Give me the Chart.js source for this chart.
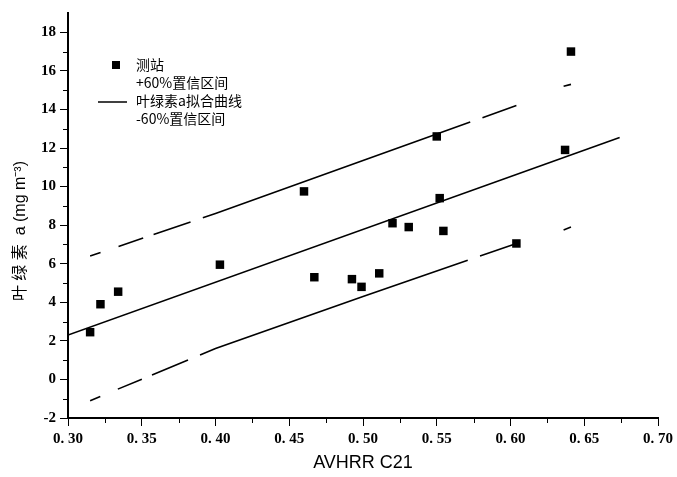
<!DOCTYPE html>
<html>
<head>
<meta charset="utf-8">
<script src="https://cdn.jsdelivr.net/npm/chart.js@4.4.1/dist/chart.umd.min.js"></script>
<style>
  html, body { margin: 0; padding: 0; background: #fff; }
  #wrap { width: 677px; height: 477px; }
</style>
</head>
<body>
<div id="wrap"><canvas id="c"></canvas></div>
<script>
// --- data ---
const stationX = [0.315, 0.322, 0.334, 0.403, 0.460, 0.467, 0.4925, 0.499, 0.511, 0.520, 0.531, 0.550, 0.552, 0.5545, 0.604, 0.637, 0.641];
const stationY = [2.45, 3.9, 4.55, 5.95, 9.75, 5.3, 5.2, 4.8, 5.5, 8.1, 7.9, 12.6, 9.4, 7.7, 7.05, 11.9, 17.0];

const fitX = [0.30, 0.674];
const fitY = [2.3, 12.55];

// null = break in the dashed band
const bandX = [0.315, 0.40, 0.50, 0.604, null, 0.636, 0.641];
const upperY = [6.4, 8.6, 11.35, 14.2, null, 15.2, 15.3];
const lowerY = [-1.1, 1.6, 4.3, 7.05, null, 7.75, 7.9];

const xTicks = [0.30, 0.35, 0.40, 0.45, 0.50, 0.55, 0.60, 0.65, 0.70];
const yTicks = [-2, 0, 2, 4, 6, 8, 10, 12, 14, 16, 18];
const xMinor = [0.325, 0.375, 0.425, 0.475, 0.525, 0.575, 0.625, 0.675];
const yMinor = [-1, 1, 3, 5, 7, 9, 11, 13, 15, 17];

const legendTexts = ['测站', '+60%置信区间', '叶绿素a拟合曲线', '-60%置信区间'];

function pts(xs, ys) {
    return xs.map((x, i) => (x === null ? { x: NaN, y: null } : { x: x, y: ys[i] }));
}

const tickFont = { family: '"Liberation Serif", serif', size: 15, weight: 'bold' };
const bandDash = [11, 19, 26, 11, 39, 13, 284, 13, 37, 0];

// minor ticks on both axes
const minorTicks = {
    id: 'minorTicks',
    afterDraw(chart) {
        const ctx = chart.ctx;
        const xs = chart.scales.x, ys = chart.scales.y;
        ctx.save();
        ctx.strokeStyle = '#000';
        ctx.lineWidth = 1;
        ctx.beginPath();
        xMinor.forEach(v => {
            const px = Math.round(xs.getPixelForValue(v)) + 0.5;
            ctx.moveTo(px, xs.top);
            ctx.lineTo(px, xs.top + 5);
        });
        yMinor.forEach(v => {
            const py = Math.round(ys.getPixelForValue(v)) + 0.5;
            ctx.moveTo(ys.right, py);
            ctx.lineTo(ys.right - 5, py);
        });
        ctx.stroke();
        ctx.restore();
    }
};

// legend inside the plot (only marker + fit line have symbols)
const innerLegend = {
    id: 'innerLegend',
    afterDraw(chart) {
        const ctx = chart.ctx;
        const x0 = 136, y0 = 65, step = 18;
        ctx.save();
        ctx.fillStyle = '#000';
        ctx.fillRect(112, y0 - 4, 8, 8);
        ctx.strokeStyle = '#000';
        ctx.lineWidth = 1.5;
        ctx.beginPath();
        ctx.moveTo(98, y0 + 2 * step + 1);
        ctx.lineTo(127, y0 + 2 * step + 1);
        ctx.stroke();
        ctx.font = '14px "Noto Sans CJK SC", "Liberation Serif", serif';
        ctx.textBaseline = 'middle';
        ctx.textAlign = 'left';
        legendTexts.forEach((t, i) => ctx.fillText(t, x0, y0 + i * step));
        ctx.restore();
    }
};

new Chart(document.getElementById('c'), {
    type: 'scatter',
    data: {
        datasets: [
            {
                label: legendTexts[0],
                data: pts(stationX, stationY),
                pointStyle: 'rect',
                pointRadius: 6,
                backgroundColor: '#000',
                borderColor: '#000',
                borderWidth: 0,
                order: 0
            },
            {
                label: legendTexts[1],
                type: 'line',
                data: pts(bandX, upperY),
                borderColor: '#000',
                borderWidth: 1.6,
                borderDash: bandDash,
                pointRadius: 0,
                spanGaps: false,
                order: 1
            },
            {
                label: legendTexts[2],
                type: 'line',
                data: pts(fitX, fitY),
                borderColor: '#000',
                borderWidth: 1.6,
                pointRadius: 0,
                order: 1
            },
            {
                label: legendTexts[3],
                type: 'line',
                data: pts(bandX, lowerY),
                borderColor: '#000',
                borderWidth: 1.6,
                borderDash: bandDash,
                pointRadius: 0,
                spanGaps: false,
                order: 1
            }
        ]
    },
    options: {
        responsive: true,
        maintainAspectRatio: false,
        animation: false,
        layout: { padding: { top: 10, right: 19, left: 0, bottom: 0 } },
        plugins: {
            legend: { display: false },
            tooltip: { enabled: false }
        },
        scales: {
            x: {
                type: 'linear',
                position: 'bottom',
                min: 0.30,
                max: 0.70,
                afterBuildTicks: s => { s.ticks = xTicks.map(v => ({ value: v })); },
                afterFit: s => { s.height = 59; },
                border: { display: true, color: '#000', width: 2 },
                grid: { drawOnChartArea: false, drawTicks: true, tickLength: 8, color: '#000', lineWidth: 1 },
                ticks: {
                    color: '#000',
                    font: tickFont,
                    padding: 4,
                    maxRotation: 0,
                    callback: v => v.toFixed(2).replace('.', '. ')
                },
                title: {
                    display: true,
                    text: 'AVHRR C21',
                    color: '#000',
                    font: { family: '"Liberation Sans", Arial, sans-serif', size: 18 },
                    padding: { top: 0, bottom: 3 }
                }
            },
            y: {
                type: 'linear',
                min: -2,
                max: 19,
                afterBuildTicks: s => { s.ticks = yTicks.map(v => ({ value: v })); },
                afterFit: s => { s.width = 68; },
                border: { display: true, color: '#000', width: 2 },
                grid: { drawOnChartArea: false, drawTicks: true, tickLength: 8, color: '#000', lineWidth: 1 },
                ticks: {
                    color: '#000',
                    font: tickFont,
                    padding: 4
                },
                title: {
                    display: true,
                    text: '叶 绿 素  a (mg m⁻³)       ',
                    color: '#000',
                    font: { family: '"Liberation Sans", "Noto Sans CJK SC", sans-serif', size: 16 },
                    padding: { top: 11, bottom: 0 }
                }
            }
        }
    },
    plugins: [minorTicks, innerLegend]
});
</script>
</body>
</html>
